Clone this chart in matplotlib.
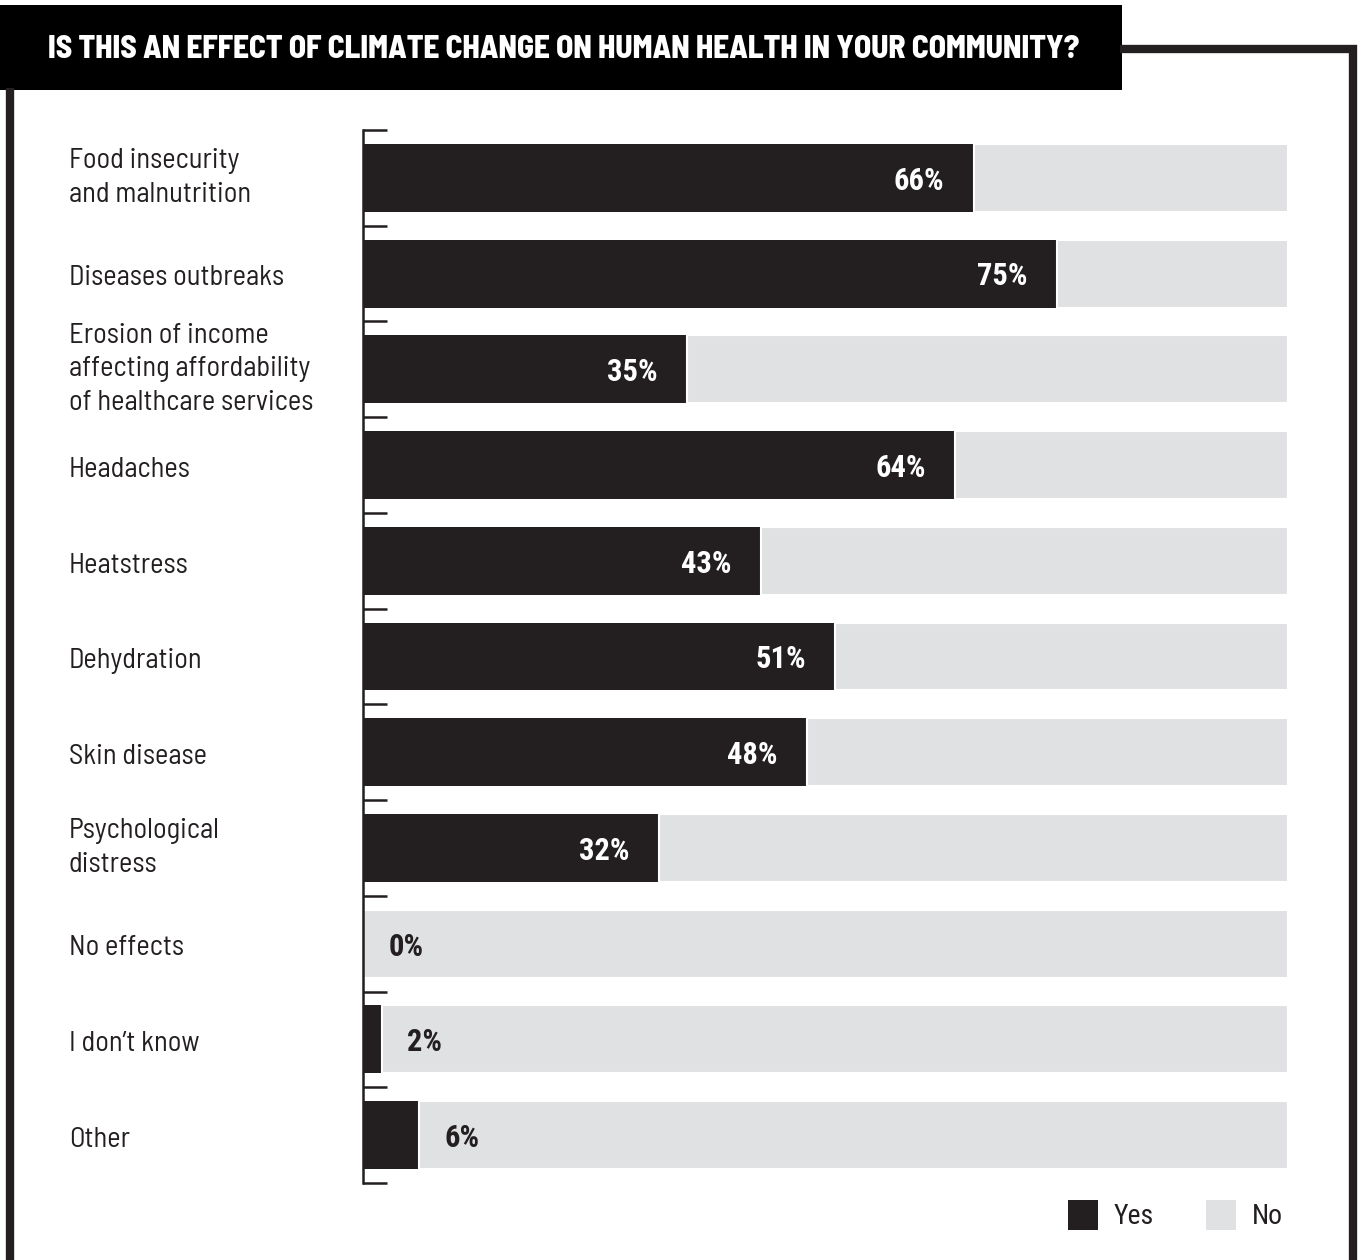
import numpy as np
import matplotlib.pyplot as plt
from matplotlib.patches import Rectangle
from matplotlib.lines import Line2D
import matplotlib.transforms as mtransforms

# Réponses à la question (en %)
categories = [
    "Food insecurity\nand malnutrition",
    "Diseases outbreaks",
    "Erosion of income\naffecting affordability\nof healthcare services",
    "Headaches",
    "Heatstress",
    "Dehydration",
    "Skin disease",
    "Psychological\ndistress",
    "No effects",
    "I don\u2019t know",
    "Other",
]
yes_values = [66, 75, 35, 64, 43, 51, 48, 32, 0, 2, 6]
no_values = [100 - v for v in yes_values]
title = "IS THIS AN EFFECT OF CLIMATE CHANGE ON HUMAN HEALTH IN YOUR COMMUNITY?"

DARK = "#231f20"
GREY = "#e0e1e3"
LABEL_FONT = ["Barlow Semi Condensed", "DejaVu Sans"]
TITLE_FONT = ["Barlow Semi Condensed", "DejaVu Sans"]
VALUE_FONT = ["Roboto Condensed", "DejaVu Sans"]
LEGEND_FONT = ["Roboto Condensed", "DejaVu Sans"]

W, H = 1360, 1260
fig = plt.figure(figsize=(W / 100, H / 100), dpi=100)

# axe en pixels : x de 363 à 1288, y de 130 à 1183 (depuis le haut)
ax = fig.add_axes([363 / W, 1 - 1183 / H, 925 / W, 1053 / H])

y = np.arange(len(categories))
ax.barh(y, yes_values, height=0.71, color=DARK, linewidth=0)
ax.barh(y, no_values, left=yes_values, height=0.71, color=GREY,
        edgecolor="white", linewidth=1.5)

ax.set_xlim(0, 100)
ax.set_ylim(len(categories) - 0.5, -0.5)

for s in ["top", "right", "bottom"]:
    ax.spines[s].set_visible(False)
ax.spines["left"].set_color(DARK)
ax.spines["left"].set_linewidth(1.8)
ax.set_xticks([])
ax.set_yticks(np.arange(len(categories) + 1) - 0.5)
ax.set_yticklabels([])
ax.tick_params(axis="y", direction="in", length=17, width=1.8, color=DARK)

# étiquettes des catégories (positions en pixels de la figure)
trans = mtransforms.blended_transform_factory(fig.transFigure, ax.transData)
for i, lab in enumerate(categories):
    dy = 0.05 if "\n" not in lab else 0.0
    ax.text(69 / W, i + dy, lab, transform=trans, ha="left", va="center",
            fontsize=20.5, family=LABEL_FONT, color=DARK, linespacing=1.38)

# valeurs
px = 100 / 925  # un pixel en unités de données
for i, v in enumerate(yes_values):
    if v >= 20:
        ax.text(v - 29 * px, i + 0.03, f"{v}%", ha="right", va="center",
                fontsize=22, fontweight="bold", family=VALUE_FONT, color="white")
    else:
        ax.text(v + 26 * px, i + 0.03, f"{v}%", ha="left", va="center",
                fontsize=22, fontweight="bold", family=VALUE_FONT, color=DARK)

# cadre
fig.add_artist(Line2D([10 / W, 10 / W], [0, 1 - 88 / H], transform=fig.transFigure,
                      color=DARK, linewidth=6, solid_capstyle="butt"))
fig.add_artist(Line2D([1120 / W, 1353 / W, 1353 / W], [1 - 49 / H, 1 - 49 / H, 0],
                      transform=fig.transFigure, color=DARK, linewidth=6,
                      solid_joinstyle="miter", solid_capstyle="butt"))

# bandeau du titre
fig.add_artist(Rectangle((0, 1 - 90 / H), 1122 / W, 85 / H, transform=fig.transFigure,
                         facecolor="black", edgecolor="none"))
fig.text(48 / W, 1 - 50 / H, title, ha="left", va="center", color="white",
         fontsize=22.5, fontweight=800, family=TITLE_FONT)

# légende
fig.add_artist(Rectangle((1068 / W, 1 - 1230 / H), 30 / W, 30 / H, transform=fig.transFigure,
                         facecolor=DARK, edgecolor="none"))
fig.text(1114 / W, 1 - 1216 / H, "Yes", ha="left", va="center", fontsize=20,
         family=LEGEND_FONT, color=DARK)
fig.add_artist(Rectangle((1206 / W, 1 - 1230 / H), 30 / W, 30 / H, transform=fig.transFigure,
                         facecolor=GREY, edgecolor="none"))
fig.text(1252 / W, 1 - 1216 / H, "No", ha="left", va="center", fontsize=20,
         family=LEGEND_FONT, color=DARK)

fig.savefig("out.png", dpi=100)
